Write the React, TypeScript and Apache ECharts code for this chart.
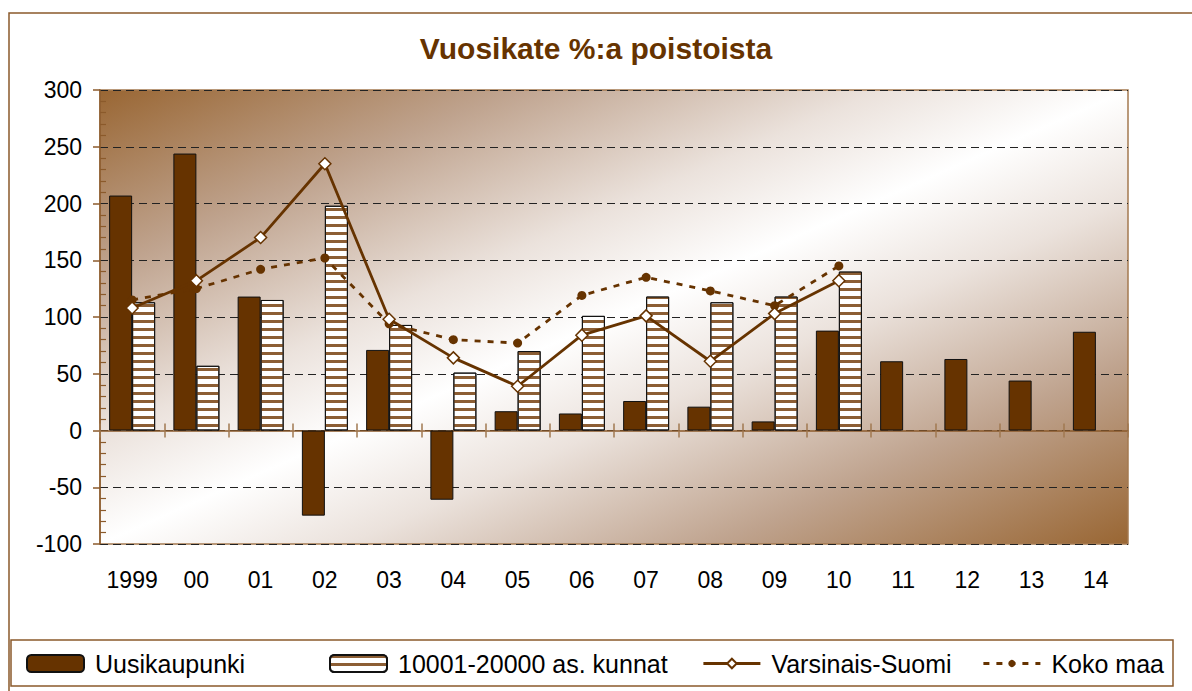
import React, { useEffect, useRef } from 'react';
import * as echarts from 'echarts';

const title = 'Vuosikate %:a poistoista';
const categories = ['1999', '00', '01', '02', '03', '04', '05', '06', '07', '08', '09', '10', '11', '12', '13', '14'];
const seriesNames = ['Uusikaupunki', '10001-20000 as. kunnat', 'Varsinais-Suomi', 'Koko maa'];
const uusikaupunki = [207, 244, 118, -75, 71, -61, 17, 15, 26, 21, 8, 88, 61, 63, 44, 87];
const kunnat = [113, 57, 115, 198, 93, 51, 70, 101, 118, 113, 118, 140, null, null, null, null];
const varsinaisSuomi = [108, 132, 170, 235, 98, 64, 39, 84, 101, 61, 103, 132, null, null, null, null];
const kokoMaa = [115, 125, 142, 152, 94, 80, 77, 119, 135, 123, 110, 145, null, null, null, null];
const yMin = -100;
const yMax = 300;
const yStep = 50;

const FONT = "Arial, 'Liberation Sans', sans-serif";
const BROWN = '#663300';
const AXIS_BROWN = '#8b5a2b';

export default function App() {
  const ref = useRef<HTMLDivElement>(null);

  useEffect(() => {
    if (!ref.current) return;
    const chart = echarts.init(ref.current, undefined, { renderer: 'svg' });

    const yBase = {
      type: 'value' as const,
      min: yMin,
      max: yMax,
      interval: yStep,
      position: 'left' as const,
    };

    const legendCommon = {
      top: 651,
      padding: 0,
      itemWidth: 57,
      itemHeight: 17,
      lineStyle: { width: 2.8 },
      textStyle: { fontSize: 25, fontFamily: FONT, color: '#000', padding: [0, 0, 0, 6] },
    };

    const option: any = {
      animation: false,
      backgroundColor: '#ffffff',
      title: {
        text: title,
        left: 'center',
        top: 28,
        textStyle: { fontSize: 30, fontWeight: 'bold', fontFamily: FONT, color: BROWN },
      },
      graphic: [
        {
          type: 'rect',
          shape: { x: 9, y: 13, width: 1200, height: 700 },
          style: { fill: 'none', stroke: AXIS_BROWN, lineWidth: 1.5 },
          silent: true,
        },
        {
          type: 'rect',
          shape: { x: 11, y: 640, width: 1162, height: 46 },
          style: { fill: 'none', stroke: AXIS_BROWN, lineWidth: 1.5 },
          silent: true,
        },
      ],
      legend: [
        { ...legendCommon, left: 26, data: [seriesNames[0]] },
        { ...legendCommon, left: 329, data: [seriesNames[1]] },
        { ...legendCommon, left: 702, itemHeight: 12, data: [seriesNames[2]] },
        { ...legendCommon, left: 982, itemHeight: 9, data: [seriesNames[3]] },
      ],
      grid: {
        left: 100,
        right: 64,
        top: 90,
        bottom: 147,
        show: true,
        borderColor: '#a47a50',
        borderWidth: 1.5,
        backgroundColor: {
          type: 'linear',
          x: 0,
          y: 0,
          x2: 1,
          y2: 1,
          colorStops: [
            { offset: 0, color: '#996633' },
            { offset: 0.2, color: '#bfa38e' },
            { offset: 0.38, color: '#ebe2dc' },
            { offset: 0.5, color: '#ffffff' },
            { offset: 0.62, color: '#ebe2dc' },
            { offset: 0.8, color: '#bfa38e' },
            { offset: 1, color: '#996633' },
          ],
        },
      },
      xAxis: [
        {
          type: 'category',
          data: categories,
          position: 'bottom',
          axisLine: { show: false, onZero: false },
          axisTick: { show: false },
          axisLabel: { fontSize: 23, fontFamily: FONT, color: '#000', margin: 24, interval: 0 },
          splitLine: { show: false },
        },
        {
          type: 'category',
          data: categories,
          position: 'bottom',
          axisLine: { show: true, onZero: true, onZeroAxisIndex: 0, lineStyle: { color: AXIS_BROWN, width: 1.5 } },
          axisTick: { show: true, inside: false, length: 7, interval: 0, lineStyle: { color: '#a07850', width: 1.5 } },
          axisLabel: { show: false },
          splitLine: { show: false },
        },
        {
          type: 'category',
          data: categories,
          position: 'bottom',
          axisLine: { show: false, onZero: true, onZeroAxisIndex: 1 },
          axisTick: { show: true, inside: true, length: 7, interval: 0, lineStyle: { color: '#a07850', width: 1.5 } },
          axisLabel: { show: false },
          splitLine: { show: false },
        },
      ],
      yAxis: [
        {
          ...yBase,
          axisLine: { show: true, lineStyle: { color: AXIS_BROWN, width: 1.5 } },
          axisTick: { show: true, inside: false, length: 7, lineStyle: { color: AXIS_BROWN, width: 1.5 } },
          axisLabel: { fontSize: 23, fontFamily: FONT, color: '#000', margin: 18 },
          splitLine: { show: true, lineStyle: { color: '#222', width: 1, type: [8, 5] } },
        },
        {
          ...yBase,
          axisLine: { show: false },
          axisTick: { show: false, inside: true },
          minorTick: { show: true, splitNumber: 5, length: 6, lineStyle: { color: AXIS_BROWN, width: 1.2 } },
          axisLabel: { show: false },
          splitLine: { show: false },
          minorSplitLine: { show: false },
        },
      ],
      series: [
        {
          name: seriesNames[0],
          type: 'bar',
          xAxisIndex: 0,
          yAxisIndex: 0,
          data: uusikaupunki,
          barWidth: 23,
          barGap: '0%',
          itemStyle: { color: BROWN, borderColor: '#111', borderWidth: 1 },
        },
        {
          name: seriesNames[1],
          type: 'bar',
          xAxisIndex: 0,
          yAxisIndex: 0,
          data: kunnat,
          barWidth: 23,
          barGap: '0%',
          itemStyle: {
            color: '#ffffff',
            borderColor: '#111',
            borderWidth: 1,
            decal: {
              symbol: 'rect',
              symbolSize: 1,
              color: '#8c5e34',
              dashArrayX: [1, 0],
              dashArrayY: [2.4, 5],
              rotation: 0,
            },
          },
        },
        {
          name: seriesNames[2],
          type: 'line',
          xAxisIndex: 0,
          yAxisIndex: 0,
          data: varsinaisSuomi,
          symbol: 'diamond',
          symbolSize: 12,
          lineStyle: { color: BROWN, width: 2.8 },
          itemStyle: { color: '#ffffff', borderColor: BROWN, borderWidth: 1.5 },
          z: 4,
        },
        {
          name: seriesNames[3],
          type: 'line',
          xAxisIndex: 0,
          yAxisIndex: 0,
          data: kokoMaa,
          symbol: 'circle',
          symbolSize: 9,
          lineStyle: { color: BROWN, width: 2.8, type: [6, 7] },
          itemStyle: { color: BROWN, borderColor: BROWN, borderWidth: 0 },
          z: 3,
        },
      ],
    };

    chart.setOption(option);
    return () => chart.dispose();
  }, []);

  return <div ref={ref} style={{ position: 'fixed', left: 0, top: 0, width: 1192, height: 691 }} />;
}
